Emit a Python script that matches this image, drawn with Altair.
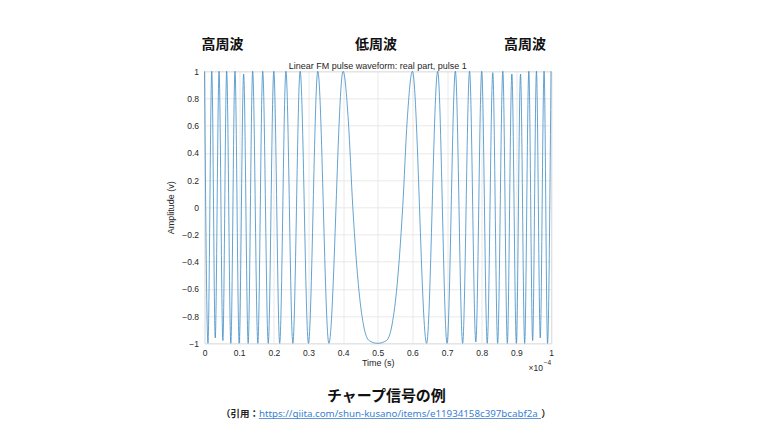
import altair as alt
import pandas as pd

# ---- data (time in units of 1e-4 s) ----
peak_times = [0.0, 0.021, 0.042, 0.064, 0.088, 0.113, 0.139, 0.168, 0.200, 0.235,
              0.276, 0.327, 0.400, 0.600, 0.673, 0.724, 0.765, 0.800, 0.832, 0.861,
              0.887, 0.912, 0.936, 0.958, 0.980, 1.0]
peak_values = [1, 1, 1, 1, 1, 0.98, 1, 1, 1, 1,
               1, 1, 1, 1, 1, 1, 1, 1, 0.99, 1,
               0.98, 0.98, 1, 1, 1, 1]
trough_times = [0.010, 0.031, 0.053, 0.076, 0.100, 0.126, 0.154, 0.184, 0.217, 0.255,
                0.300, 0.359, 0.500, 0.641, 0.700, 0.745, 0.783, 0.816, 0.846, 0.874,
                0.900, 0.924, 0.947, 0.969, 0.990]
trough_values = [-1, -0.96, -0.98, -1, -1, -1, -1, -1, -1, -1,
                 -1, -1, -1, -1, -1, -1, -0.99, -1, -1, -1,
                 -1, -1, -0.98, -0.96, -1]
shoulder_times = [0.415, 0.428, 0.446, 0.460, 0.475, 0.525, 0.540, 0.554, 0.572, 0.585]
shoulder_values = [0.64, 0.0, -0.62, -0.88, -0.98, -0.98, -0.88, -0.62, 0.0, 0.64]

x_ticks = [0, 0.1, 0.2, 0.3, 0.4, 0.5, 0.6, 0.7, 0.8, 0.9, 1]
y_ticks = [-1, -0.8, -0.6, -0.4, -0.2, 0, 0.2, 0.4, 0.6, 0.8, 1]

band_labels = ["高周波", "低周波", "高周波"]
band_t = [0.052, 0.495, 0.925]
band_v = [1.193, 1.193, 1.193]

caption = "チャープ信号の例"
cite_open = "（引用："
cite_url = "https://qiita.com/shun-kusano/items/e11934158c397bcabf2a"
cite_close = "）"

plot_title = "Linear FM pulse waveform: real part, pulse 1"

# ---- build tables ----
wave = pd.DataFrame({
    "t": peak_times + trough_times + shoulder_times,
    "v": peak_values + trough_values + shoulder_values,
}).sort_values("t")

xs = alt.Scale(domain=[0, 1], nice=False)
ys = alt.Scale(domain=[-1, 1], nice=False)

x_axis = alt.Axis(
    values=x_ticks, format="~g", title="Time (s)", grid=True,
    gridColor="#e4e4e4", gridWidth=0.8, domain=False, ticks=False,
    labelOverlap=False, labelFlush=False,
    labelPadding=5, labelFontSize=8.5, labelColor="#262626",
    titleFontSize=9, titleFontWeight="normal", titleColor="#262626",
    titlePadding=2, labelFont="Liberation Sans", titleFont="Liberation Sans")
y_axis = alt.Axis(
    values=y_ticks, format="~g", title="Amplitude (v)", grid=True,
    gridColor="#e4e4e4", gridWidth=0.8, domain=False, ticks=False,
    labelOverlap=False, labelFlush=False,
    labelPadding=6, labelFontSize=8.5, labelColor="#262626",
    titleFontSize=9, titleFontWeight="normal", titleColor="#262626",
    titlePadding=6, labelFont="Liberation Sans", titleFont="Liberation Sans")

line = alt.Chart(wave).mark_line(
    interpolate="monotone", color="#3d8cc4", strokeWidth=0.8
).encode(
    x=alt.X("t:Q", scale=xs, axis=x_axis),
    y=alt.Y("v:Q", scale=ys, axis=y_axis),
)

def text_layer(t, v, label, **kw):
    return alt.Chart(pd.DataFrame({"t": t, "v": v, "label": label})).mark_text(
        baseline="middle", **kw
    ).encode(x=alt.X("t:Q", scale=xs, axis=x_axis), y=alt.Y("v:Q", scale=ys, axis=y_axis),
             text="label:N")

ptitle = text_layer([0.5], [1.042], [plot_title], font="Liberation Sans", fontSize=9,
                    color="#262626", align="center")

bands = text_layer(band_t, band_v, band_labels, font="Noto Sans CJK JP", fontSize=14,
                   fontWeight="bold", color="#111111", align="center")

cap = text_layer([0.525], [-1.39], [caption], font="Noto Sans CJK JP", fontSize=15,
                 fontWeight="bold", color="#111111", align="center")

cite_a = text_layer([0.157], [-1.518], [cite_open], font="Noto Sans CJK JP", fontSize=9.5,
                    fontWeight="bold", color="#222222", align="right")

cite_b = text_layer([0.157], [-1.518], [cite_url], font="Noto Sans", fontSize=9.75,
                    color="#3b7fd0", align="left")

cite_c = text_layer([0.972], [-1.518], [cite_close], font="Noto Sans CJK JP", fontSize=9.5,
                    fontWeight="bold", color="#222222", align="left")

underline = alt.Chart(pd.DataFrame({"t": [0.157], "t2": [0.971], "v": [-1.553]})).mark_rule(
    color="#3b7fd0", strokeWidth=0.8
).encode(x=alt.X("t:Q", scale=xs, axis=x_axis), x2="t2:Q",
         y=alt.Y("v:Q", scale=ys, axis=y_axis))

exp_base = text_layer([0.977], [-1.182], ["×10"], font="Liberation Sans", fontSize=8.5,
                      color="#262626", align="right")

exp_pow = text_layer([0.979], [-1.148], ["−4"], font="Liberation Sans", fontSize=6.5,
                     color="#262626", align="left")

chart = alt.layer(
    line, ptitle, bands, cap, cite_a, cite_b, cite_c, underline, exp_base, exp_pow
).properties(
    width=346.5, height=272,
    autosize=alt.AutoSizeParams(type="none"),
    padding={"left": 196.5, "top": 63.3, "right": 208, "bottom": 78},
).configure_view(
    stroke="#6e6e6e", strokeWidth=0.8
).configure(background="white")

chart.save("out.html", embed_options={"renderer": "svg", "actions": False})
